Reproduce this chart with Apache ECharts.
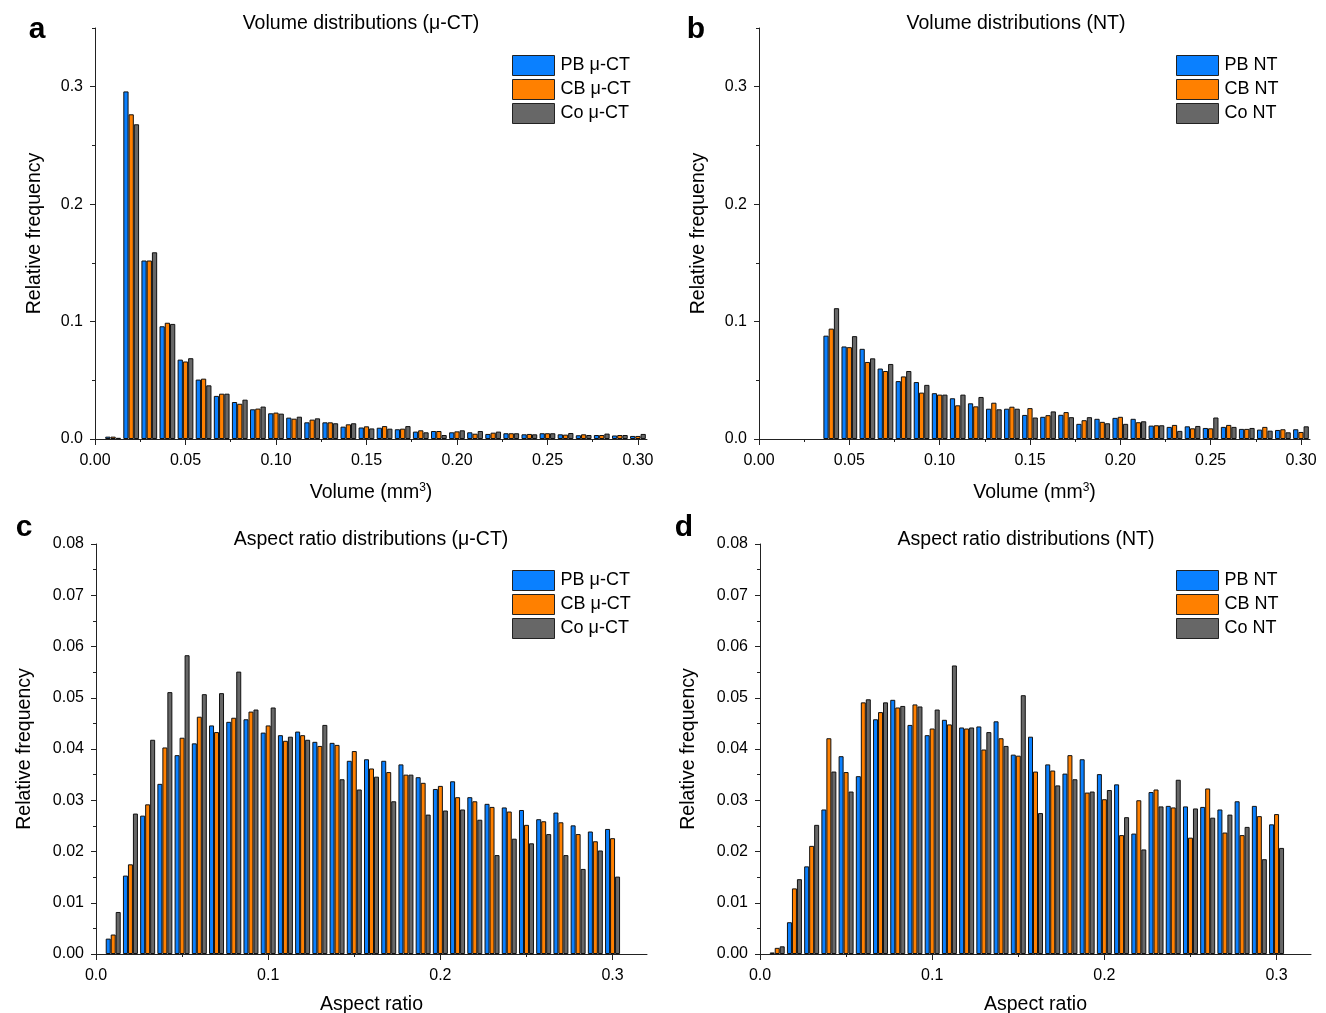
<!DOCTYPE html>
<html>
<head>
<meta charset="utf-8">
<script src="https://cdn.jsdelivr.net/npm/echarts@6/dist/echarts.min.js"></script>
<style>
  html, body { margin: 0; padding: 0; background: #fff; }
  #chart { width: 1326px; height: 1013px; }
</style>
</head>
<body>
<div id="chart"></div>
<script>
// ---- bin centres ----
const volBinsCT = [0.01, 0.02, 0.03, 0.04, 0.05, 0.06, 0.07, 0.08, 0.09, 0.10,
                   0.11, 0.12, 0.13, 0.14, 0.15, 0.16, 0.17, 0.18, 0.19, 0.20,
                   0.21, 0.22, 0.23, 0.24, 0.25, 0.26, 0.27, 0.28, 0.29, 0.30];
const volBinsNT = [0.04, 0.05, 0.06, 0.07, 0.08, 0.09, 0.10,
                   0.11, 0.12, 0.13, 0.14, 0.15, 0.16, 0.17, 0.18, 0.19, 0.20,
                   0.21, 0.22, 0.23, 0.24, 0.25, 0.26, 0.27, 0.28, 0.29, 0.30];
const arBins = [0.01, 0.02, 0.03, 0.04, 0.05, 0.06, 0.07, 0.08, 0.09, 0.10,
                0.11, 0.12, 0.13, 0.14, 0.15, 0.16, 0.17, 0.18, 0.19, 0.20,
                0.21, 0.22, 0.23, 0.24, 0.25, 0.26, 0.27, 0.28, 0.29, 0.30];

// ---- (a) volume, μ-CT ----
const volPbCT = [0.002, 0.296, 0.152, 0.096, 0.0676, 0.0506, 0.0367, 0.0315, 0.0253, 0.0219,
                 0.0182, 0.0142, 0.0142, 0.0105, 0.0098, 0.0096, 0.0083, 0.0063, 0.0068, 0.0057,
                 0.0057, 0.0043, 0.0049, 0.0040, 0.0049, 0.0040, 0.0032, 0.0034, 0.0030, 0.0026];
const volCbCT = [0.002, 0.2765, 0.152, 0.099, 0.066, 0.0514, 0.0386, 0.0300, 0.0259, 0.0225,
                 0.0173, 0.0165, 0.0142, 0.0125, 0.0108, 0.0110, 0.0088, 0.0074, 0.0068, 0.0065,
                 0.0045, 0.0054, 0.0049, 0.0043, 0.0049, 0.0037, 0.0040, 0.0034, 0.0034, 0.0026];
const volCoCT = [0.001, 0.268, 0.159, 0.098, 0.0688, 0.0457, 0.0386, 0.0335, 0.0276, 0.0216,
                 0.0190, 0.0176, 0.0134, 0.0134, 0.0090, 0.0088, 0.0110, 0.0057, 0.0034, 0.0074,
                 0.0068, 0.0063, 0.0049, 0.0040, 0.0049, 0.0051, 0.0034, 0.0046, 0.0034, 0.0043];

// ---- (b) volume, NT ----
const volPbNT = [0.088, 0.0788, 0.0768, 0.060, 0.0493, 0.0485, 0.0390,
                 0.0347, 0.0304, 0.0258, 0.0258, 0.0205, 0.0189, 0.0206, 0.0129, 0.0172, 0.0180,
                 0.0172, 0.0114, 0.0103, 0.0108, 0.0094, 0.0103, 0.0086, 0.0080, 0.0077, 0.0083];
const volCbNT = [0.094, 0.0782, 0.0656, 0.0579, 0.0533, 0.0395, 0.0378,
                 0.0287, 0.0278, 0.0309, 0.0275, 0.0263, 0.0203, 0.0229, 0.0160, 0.0146, 0.0189,
                 0.0143, 0.0117, 0.0120, 0.0091, 0.0091, 0.0120, 0.0086, 0.0103, 0.0083, 0.0060];
const volCoNT = [0.1114, 0.0876, 0.0687, 0.0639, 0.0579, 0.0461, 0.0378,
                 0.0378, 0.0358, 0.0253, 0.0258, 0.0183, 0.0235, 0.0186, 0.0186, 0.0134, 0.0129,
                 0.0151, 0.0117, 0.0069, 0.0111, 0.0183, 0.0103, 0.0094, 0.0071, 0.0057, 0.0108];

// ---- (c) aspect ratio, μ-CT ----
const arPbCT = [0.0030, 0.0153, 0.0270, 0.0332, 0.0388, 0.0411, 0.0446, 0.0453, 0.0458, 0.0432,
                0.0427, 0.0434, 0.0414, 0.0412, 0.0377, 0.0380, 0.0377, 0.0370, 0.0345, 0.0322,
                0.0337, 0.0306, 0.0293, 0.0286, 0.0281, 0.0263, 0.0276, 0.0251, 0.0239, 0.0244];
const arCbCT = [0.0038, 0.0175, 0.0292, 0.0403, 0.0422, 0.0463, 0.0433, 0.0461, 0.0473, 0.0446,
                0.0416, 0.0427, 0.0406, 0.0408, 0.0396, 0.0362, 0.0355, 0.0350, 0.0334, 0.0328,
                0.0306, 0.0298, 0.0287, 0.0278, 0.0252, 0.0259, 0.0257, 0.0234, 0.0220, 0.0226];
const arCoCT = [0.0082, 0.0274, 0.0418, 0.0511, 0.0583, 0.0507, 0.0509, 0.0551, 0.0477, 0.0481,
                0.0424, 0.0418, 0.0447, 0.0341, 0.0321, 0.0346, 0.0298, 0.0350, 0.0272, 0.0280,
                0.0282, 0.0262, 0.0193, 0.0225, 0.0216, 0.0234, 0.0193, 0.0166, 0.0202, 0.0151];

// ---- (d) aspect ratio, NT ----
const arPbNT = [0.0003, 0.0062, 0.0171, 0.0282, 0.0386, 0.0347, 0.0458, 0.0496, 0.0447, 0.0427,
                0.0457, 0.0442, 0.0444, 0.0454, 0.0389, 0.0424, 0.0370, 0.0352, 0.0380, 0.0351,
                0.0331, 0.0235, 0.0316, 0.0289, 0.0288, 0.0287, 0.0282, 0.0298, 0.0289, 0.0253];
const arCbNT = [0.0012, 0.0128, 0.0211, 0.0421, 0.0355, 0.0491, 0.0472, 0.0481, 0.0487, 0.0440,
                0.0448, 0.0440, 0.0399, 0.0421, 0.0387, 0.0356, 0.0358, 0.0388, 0.0315, 0.0302,
                0.0232, 0.0300, 0.0321, 0.0286, 0.0227, 0.0323, 0.0237, 0.0232, 0.0269, 0.0273];
const arCoNT = [0.0015, 0.0146, 0.0252, 0.0356, 0.0317, 0.0497, 0.0491, 0.0484, 0.0483, 0.0477,
                0.0563, 0.0442, 0.0433, 0.0406, 0.0505, 0.0275, 0.0329, 0.0341, 0.0317, 0.0320,
                0.0267, 0.0204, 0.0288, 0.0340, 0.0284, 0.0266, 0.0272, 0.0248, 0.0185, 0.0207];

// ---- tick positions ----
const volMajorX = [0, 0.05, 0.10, 0.15, 0.20, 0.25, 0.30];
const volMinorX = [0.025, 0.075, 0.125, 0.175, 0.225, 0.275];
const volMajorY = [0, 0.1, 0.2, 0.3];
const volMinorY = [0.05, 0.15, 0.25, 0.35];
const arMajorX = [0, 0.1, 0.2, 0.3];
const arMinorX = [0.05, 0.15, 0.25];
const arMajorY = [0, 0.01, 0.02, 0.03, 0.04, 0.05, 0.06, 0.07, 0.08];
const arMinorY = [0.005, 0.015, 0.025, 0.035, 0.045, 0.055, 0.065, 0.075];

// ---- labels ----
const namesCT = ['PB μ-CT', 'CB μ-CT', 'Co μ-CT'];
const namesNT = ['PB NT', 'CB NT', 'Co NT'];
const colors = ['#0a80ff', '#ff8000', '#676767'];

const FONT = "'Liberation Sans', Arial, Helvetica, sans-serif";
const AXIS_COLOR = '#222';

const chart = echarts.init(document.getElementById('chart'), null, { renderer: 'canvas' });

const grids = [
  { left: 95,  top: 28,  width: 552, height: 411 },
  { left: 759, top: 28,  width: 551, height: 411 },
  { left: 96,  top: 544, width: 551, height: 410 },
  { left: 760, top: 544, width: 551, height: 410 }
].map(g => Object.assign({ outerBoundsMode: 'none', containLabel: false }, g));

const nameRich = {
  n: { fontSize: 19.5, fontFamily: FONT, color: '#000', lineHeight: 24, verticalAlign: 'bottom' },
  s: { fontSize: 12, fontFamily: FONT, color: '#000', lineHeight: 24, verticalAlign: 'bottom', padding: [0, 0, 9, 0] }
};

function majorX(gridIndex, max, ticks, digits, name, nameGap) {
  return {
    type: 'value', gridIndex, min: 0, max, position: 'bottom',
    axisLine: { show: true, onZero: false, lineStyle: { color: AXIS_COLOR, width: 1 } },
    axisTick: { show: true, inside: false, length: 6, customValues: ticks,
                lineStyle: { color: AXIS_COLOR, width: 1 } },
    axisLabel: { show: true, customValues: ticks, margin: 14, fontSize: 16, color: '#000',
                 fontFamily: FONT, formatter: v => v.toFixed(digits) },
    splitLine: { show: false },
    name, nameLocation: 'middle', nameGap, nameMoveOverlap: false,
    nameTextStyle: { rich: nameRich }
  };
}
function minorX(gridIndex, max, ticks) {
  return {
    type: 'value', gridIndex, min: 0, max, position: 'bottom',
    axisLine: { show: false },
    axisTick: { show: true, inside: false, length: 3, customValues: ticks,
                lineStyle: { color: AXIS_COLOR, width: 1 } },
    axisLabel: { show: false },
    splitLine: { show: false }
  };
}
function majorY(gridIndex, max, ticks, digits, nameGap) {
  return {
    type: 'value', gridIndex, min: 0, max, position: 'left',
    axisLine: { show: true, onZero: false, lineStyle: { color: AXIS_COLOR, width: 1 } },
    axisTick: { show: true, inside: false, length: 5, customValues: ticks,
                lineStyle: { color: AXIS_COLOR, width: 1 } },
    axisLabel: { show: true, customValues: ticks, margin: 12, fontSize: 16, color: '#000',
                 fontFamily: FONT, formatter: v => v.toFixed(digits) },
    splitLine: { show: false },
    name: 'Relative frequency', nameLocation: 'middle', nameGap, nameRotate: 90,
    nameMoveOverlap: false,
    nameTextStyle: { fontSize: 19.5, fontFamily: FONT, color: '#000' }
  };
}
function minorY(gridIndex, max, ticks) {
  return {
    type: 'value', gridIndex, min: 0, max, position: 'left',
    axisLine: { show: false },
    axisTick: { show: true, inside: false, length: 3, customValues: ticks,
                lineStyle: { color: AXIS_COLOR, width: 1 } },
    axisLabel: { show: false },
    splitLine: { show: false }
  };
}

const volName = '{n|Volume (mm}{s|3}{n|)}';
const arName = '{n|Aspect ratio}';

const xAxes = [
  majorX(0, 0.305, volMajorX, 2, volName, 40), minorX(0, 0.305, volMinorX),
  majorX(1, 0.305, volMajorX, 2, volName, 40), minorX(1, 0.305, volMinorX),
  majorX(2, 0.32, arMajorX, 1, arName, 37),    minorX(2, 0.32, arMinorX),
  majorX(3, 0.32, arMajorX, 1, arName, 37),    minorX(3, 0.32, arMinorX)
];
const yAxes = [
  majorY(0, 0.35, volMajorY, 1, 50), minorY(0, 0.35, volMinorY),
  majorY(1, 0.35, volMajorY, 1, 50), minorY(1, 0.35, volMinorY),
  majorY(2, 0.08, arMajorY, 2, 61),  minorY(2, 0.08, arMinorY),
  majorY(3, 0.08, arMajorY, 2, 61),  minorY(3, 0.08, arMinorY)
];

function pairs(bins, vals) { return bins.map((b, i) => [b, vals[i]]); }

function barSeries(name, color, axisIdx, bins, vals) {
  return {
    type: 'bar', name,
    xAxisIndex: axisIdx, yAxisIndex: axisIdx,
    data: pairs(bins, vals),
    barGap: '0%', barCategoryGap: '13%',
    itemStyle: { color, borderColor: '#111', borderWidth: 1 },
    emphasis: { disabled: true },
    animation: false
  };
}

const series = [
  barSeries(namesCT[0], colors[0], 0, volBinsCT, volPbCT),
  barSeries(namesCT[1], colors[1], 0, volBinsCT, volCbCT),
  barSeries(namesCT[2], colors[2], 0, volBinsCT, volCoCT),
  barSeries(namesNT[0], colors[0], 2, volBinsNT, volPbNT),
  barSeries(namesNT[1], colors[1], 2, volBinsNT, volCbNT),
  barSeries(namesNT[2], colors[2], 2, volBinsNT, volCoNT),
  barSeries(namesCT[0], colors[0], 4, arBins, arPbCT),
  barSeries(namesCT[1], colors[1], 4, arBins, arCbCT),
  barSeries(namesCT[2], colors[2], 4, arBins, arCoCT),
  barSeries(namesNT[0], colors[0], 6, arBins, arPbNT),
  barSeries(namesNT[1], colors[1], 6, arBins, arCbNT),
  barSeries(namesNT[2], colors[2], 6, arBins, arCoNT)
];

function legendAt(left, top, names) {
  return {
    orient: 'vertical', left, top, data: names,
    icon: 'rect', itemWidth: 42, itemHeight: 20, itemGap: 3,
    padding: 0, selectedMode: false,
    itemStyle: { borderColor: '#222', borderWidth: 1 },
    textStyle: { fontSize: 18, fontFamily: FONT, color: '#000', padding: [0, 0, 0, 1] }
  };
}

function label(text, x, y, font) {
  return {
    type: 'text', x, y, silent: true,
    style: { text, font, fill: '#000', textAlign: 'center', textVerticalAlign: 'middle' }
  };
}

const titleFont = '19.5px ' + FONT;
const letterFont = 'bold 30px ' + FONT;

chart.setOption({
  animation: false,
  backgroundColor: '#fff',
  grid: grids,
  xAxis: xAxes,
  yAxis: yAxes,
  series,
  legend: [
    legendAt(512, 55, namesCT),
    legendAt(1176, 55, namesNT),
    legendAt(512, 570, namesCT),
    legendAt(1176, 570, namesNT)
  ],
  graphic: [
    label('Volume distributions (μ-CT)', 361, 24, titleFont),
    label('Volume distributions (NT)', 1016, 24, titleFont),
    label('Aspect ratio distributions (μ-CT)', 371, 540, titleFont),
    label('Aspect ratio distributions (NT)', 1026, 540, titleFont),
    label('a', 37, 30, letterFont),
    label('b', 696, 30, letterFont),
    label('c', 24, 528, letterFont),
    label('d', 684, 528, letterFont)
  ]
});
</script>
</body>
</html>
